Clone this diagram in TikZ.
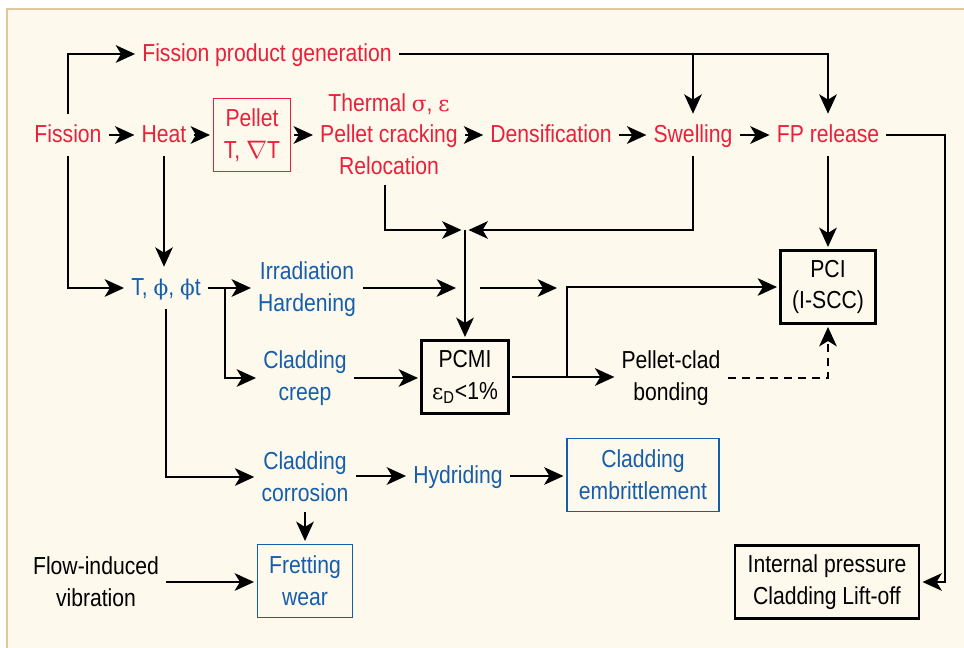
\documentclass[tikz,border=0pt]{standalone}
\usepackage{fontspec}
\setmainfont{Liberation Sans}[FakeStretch=0.86]
\newfontfamily\grk{DejaVu Serif}[Scale=0.88]
\usetikzlibrary{arrows.meta}
\definecolor{fpred}{RGB}{234,32,58}
\definecolor{clblue}{RGB}{22,94,172}
\definecolor{bgcream}{RGB}{253,249,236}
\definecolor{frametan}{RGB}{224,200,156}
\tikzset{
  lbl/.style={inner xsep=3.5pt, inner ysep=6pt, text height=10pt, text depth=1pt},
  mlbl/.style={inner xsep=3.5pt, inner ysep=5pt, align=center},
  rtxt/.style={lbl, text=fpred},
  btxt/.style={lbl, text=clblue},
  bmtxt/.style={mlbl, text=clblue},
  kmtxt/.style={mlbl, text=black},
  box/.style={align=center, minimum height=1.46cm, inner sep=2pt, outer sep=2pt},
  rbox/.style={box, draw=fpred, line width=0.9pt, text=fpred},
  bbox/.style={box, draw=clblue, line width=1pt, text=clblue},
  kbox/.style={box, draw=black, line width=1.2pt, text=black},
}
\begin{document}
\begin{tikzpicture}[x=0.02cm, y=-0.02cm, line width=1.25pt,
  >={Stealth[length=11pt, width=10pt, inset=3pt]},
  font=\fontsize{14}{18}\selectfont]
%background
\useasboundingbox (0,0) rectangle (964,648);
\fill[white] (0,0) rectangle (964,648);
\fill[bgcream] (7,9) rectangle (964,648);
\draw[frametan, line width=1.4pt] (7,648) -- (7,9) -- (964,9);

% fuel (red) row
\node[rtxt] (fpg) at (267,54) {Fission product generation};
\node[rtxt] (fis) at (68,135) {Fission};
\node[rtxt] (heat) at (164,135) {Heat};
\node[rbox, minimum width=1.54cm] (pel) at (252,135) {Pellet\\T, $\nabla$T};
\node[mlbl, text=fpred] (therm) at (389,134) {Thermal {\grk σ}, {\grk ε}\\Pellet cracking\\Relocation};
\node[rtxt] (dens) at (551,135) {Densification};
\node[rtxt] (swell) at (693,135) {Swelling};
\node[rtxt] (fpr) at (828,135) {FP release};

% cladding (blue) nodes
\node[btxt] (tphi) at (166,288) {T, {\grk ϕ}, {\grk ϕ}t};
\node[bmtxt] (irr) at (307,289) {Irradiation\\Hardening};
\node[bmtxt] (creep) at (305,378) {Cladding\\creep};
\node[bmtxt] (corr) at (305,477) {Cladding\\corrosion};
\node[btxt] (hyd) at (458,476) {Hydriding};
\node[bbox, minimum width=3.04cm] (embr) at (643,475) {Cladding\\embrittlement};
\node[bbox, minimum width=1.90cm] (fret) at (305,581) {Fretting\\wear};

% black nodes
\node[kbox, minimum width=1.74cm] (pcmi) at (465,377) {PCMI\\{\grk ε}\textsubscript{D}<1\%};
\node[kmtxt] (bond) at (671,378) {Pellet-clad\\bonding};
\node[kbox, minimum width=1.90cm] (pci) at (828,287) {PCI\\(I-SCC)};
\node[kmtxt] (flow) at (96,582) {Flow-induced\\vibration};
\node[kbox, minimum width=3.68cm] (ipres) at (827,582) {Internal pressure\\Cladding Lift-off};

% junctions
\coordinate (jn) at (465,230);
\coordinate (br1) at (225,288);
\coordinate (br2) at (567,377);
\coordinate (cx1) at (456,288);
\coordinate (cx2) at (480,288);
\coordinate (cx3) at (557,288);
\coordinate (rt) at (945,135);

% top row arrows
\draw[->] (fis) -- (heat);
\draw[->] (heat) -- (pel);
\draw[->] (pel.east) -- (pel.east -| therm.west);
\draw[->] (therm.east |- dens) -- (dens);
\draw[->] (dens) -- (swell);
\draw[->] (swell) -- (fpr);
\draw[->] (fis.north) |- (fpg.west);
\draw[->] (fpg.east) -| (fpr.north);
\draw[->] (swell.north |- fpg.east) -- (swell.north);

% into PCMI
\draw[->, shorten >=2pt] (therm.south -| 385,0) |- (jn);
\draw[->, shorten >=2pt] (swell.south) |- (jn);
\draw[->] (jn) -- (pcmi.north);

% irradiation paths
\draw[->] (fis.south) |- (tphi.west);
\draw[->] (heat.south) -- (heat.south |- tphi.north);
\draw[->] (tphi.east) -- (tphi.east -| irr.west);
\draw[->] (br1) |- (creep.west);
\draw[->] (tphi.south) |- (corr.west);
\draw[->] (irr.east |- cx1) -- (cx1);
\draw[->] (cx2) -- (cx3);
\draw[->] (creep.east) -- (creep.east -| pcmi.west);
\draw[->] (pcmi.east) -- (pcmi.east -| bond.west);
\draw[->] (br2) |- (pci.west);
\draw[->, dash pattern=on 4.5pt off 3.5pt] (bond.east) -| (pci.south);
\draw[->] (fpr.south) -- (pci.north);
\draw[->] (fpr.east) -- (rt) |- (ipres.east);

% corrosion paths
\draw[->] (corr.east |- hyd) -- (hyd.west);
\draw[->] (hyd.east) -- (hyd.east -| embr.west);
\draw[->] (corr.south) -- (fret.north);
\draw[->] (flow.east) -- (flow.east -| fret.west);
\end{tikzpicture}
\end{document}
